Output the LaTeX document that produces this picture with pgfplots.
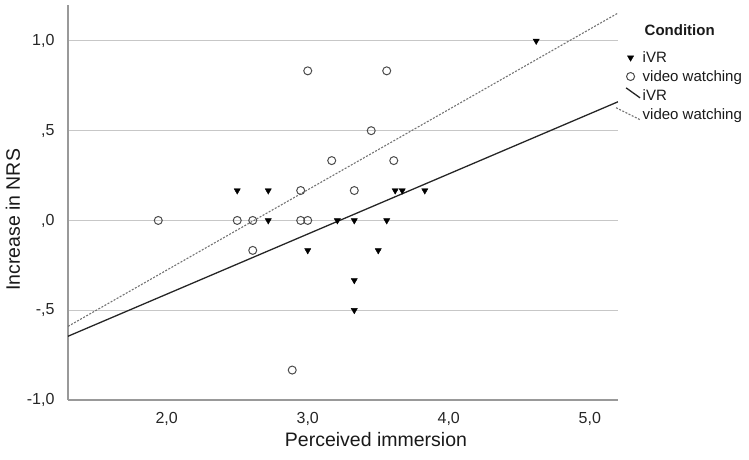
\documentclass[border=0pt]{standalone}
\usepackage{fontspec}
\setmainfont{Liberation Sans}
\usepackage{pgfplots}
\pgfplotsset{compat=1.18}
\pgfplotsset{
  tleg/.style={legend image code/.code={\path[draw=none,fill=none] (0pt,-16pt) (0pt,4pt);}},
  mleg/.style={legend image code/.code={\path (0pt,0pt) (17pt,0pt); \draw[##1] plot coordinates {(8.5pt,0pt)};}},
  sleg/.style={legend image code/.code={\draw[##1] (4pt,8pt) -- (18pt,-2pt);}},
  dleg/.style={legend image code/.code={\draw[##1] (-6pt,7pt) -- (18pt,-5pt);}},
}
\pgfplotstableread{
x y
2.50 0.1667
2.72 0.1667
2.72 0
3.00 -0.1667
3.21 0
3.33 0
3.56 0
3.50 -0.1667
3.33 -0.3333
3.33 -0.5
3.62 0.1667
3.67 0.1667
3.83 0.1667
4.62 1.0
}\ivr
\pgfplotstableread{
x y
1.94 0
2.50 0
2.61 0
2.61 -0.1667
2.95 0.1667
2.95 0
3.00 0
3.17 0.3333
3.61 0.3333
3.33 0.1667
3.56 0.8333
3.45 0.5
3.00 0.8333
2.89 -0.8333
}\video
\begin{document}
\begin{tikzpicture}
\begin{axis}[
  at={(0pt,0pt)}, anchor=south west,
  scale only axis, width=550pt, height=395pt,
  xmin=1.3, xmax=5.2, ymin=-1, ymax=1.2,
  axis x line*=bottom, axis y line*=left,
  axis line style={color=black!40, line width=1.3pt, -},
  xtick={2,3,4,5}, xticklabels={{2,0},{3,0},{4,0},{5,0}},
  ytick={-1,-0.5,0,0.5,1}, yticklabels={{-1,0},{-,5},{,0},{,5},{1,0}},
  major tick length=0pt,
  ymajorgrids, grid style={color=black!22, line width=1.1pt},
  /pgf/number format/assume math mode=true,
  tick label style={font=\fontsize{16}{18}\selectfont, text=black!85},
  xticklabel style={yshift=-9pt},
  yticklabel style={xshift=-10pt},
  xlabel={Perceived immersion},
  ylabel={Increase in NRS},
  label style={font=\fontsize{19.5}{23}\selectfont, text=black!90},
  xlabel style={at={(axis description cs:0.56,-0.101)}, anchor=center},
  ylabel style={at={(axis description cs:-0.1,0.456)}, anchor=center},
  clip=true,
  legend style={at={(axis description cs:0.9955,0.955)}, anchor=north west,
    draw=none, fill=none, inner sep=0pt, outer sep=0pt,
    font=\fontsize{15}{17}\selectfont, text=black!90,
    row sep=2.5pt,
    /tikz/every even column/.append style={column sep=1pt}},
  legend cell align=left,
]
\addlegendimage{tleg}
\addlegendentry{\hspace{2pt}\textbf{Condition}}
\addplot[only marks, mark=triangle*, mark size=3.6pt,
  mark options={rotate=180, fill=black, draw=black}, mleg]
  table {\ivr};
\addlegendentry{iVR}
\addplot[only marks, mark=o, mark size=4pt,
  mark options={draw=black!70, fill=white, line width=1pt}, mleg]
  table {\video};
\addlegendentry{video watching}
\addplot[black!85, line width=1.3pt, sleg]
  coordinates {(1.3,-0.645) (5.2,0.661)};
\addlegendentry{iVR}
\addplot[black!55, line width=1.1pt, dash pattern=on 2pt off 1.5pt, dleg]
  coordinates {(1.3,-0.59) (5.2,1.155)};
\addlegendentry{video watching}
\end{axis}
\pgfresetboundingbox
\useasboundingbox (-68pt,-60pt) rectangle (681pt,400pt);
\end{tikzpicture}
\end{document}
